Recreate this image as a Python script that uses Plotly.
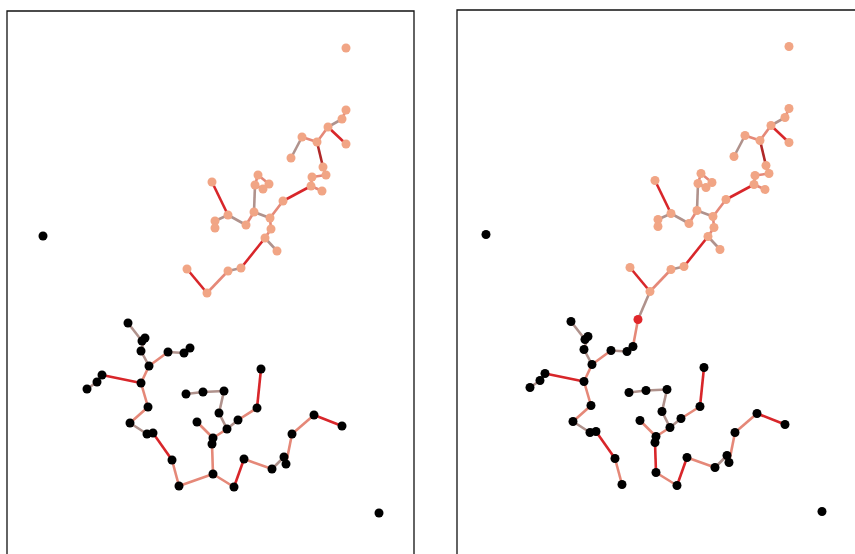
import plotly.graph_objects as go

# Node layout positions (shared by both panels), layout units
node_ids = ["s0","s1","s2","s3","s4","s5","s6","s7","s8","s9","s10","s11","s12","s13",
            "s14","s15","s16","s17","s18","s19","s20","s21","s22","s23","s24","s25","s26",
            "s27","s28","s29","s30","s31",
            "b0","b1","b2","b3","b4","b5","b6","b7","b8","b9","b10","b11","b12","b13","b14",
            "b15","b16","b17","b18","b19","b20","b21","b22","b23","b24","b25","b26","b27",
            "b28","b29","b30","b31","b32","b33","b34","b35","b36","b37","b38","b39","n0"]
node_x = [346,346,342,328,346,317,302,291,323,326,312,311,322,283,
          258,255,269,263,212,228,215,215,246,254,270,271,265,
          277,241,228,187,207,
          43,379,128,142,145,141,149,168,184,190,102,97,87,141,148,
          130,147,153,172,179,213,234,244,272,284,286,292,314,
          342,261,257,238,227,213,212,197,219,224,203,186,195]
node_y = [48,110,119,127,144,142,137,158,167,175,177,186,191,201,
          175,185,184,189,182,215,221,228,225,212,218,229,238,
          251,268,271,269,293,
          236,513,323,341,338,351,366,352,353,348,375,382,389,383,407,
          423,434,433,460,486,474,487,459,469,457,464,434,415,
          426,369,408,420,429,438,444,422,413,391,392,394,321]

# Node groups per panel
group_p1 = {"salmon": [f"s{i}" for i in range(32)],
            "black": [f"b{i}" for i in range(40)]}
group_p2 = {"salmon": [f"s{i}" for i in range(32)],
            "black": [f"b{i}" for i in range(40)],
            "red": ["n0"]}

# Edges: (from, to, strength class)
edges_common = [
    ("s1","s2","s"),("s2","s3","g"),("s3","s4","r"),("s3","s5","s"),("s5","s6","s"),
    ("s6","s7","g"),("s5","s8","d"),("s8","s9","s"),("s9","s10","s"),("s10","s11","s"),
    ("s11","s12","s"),("s13","s11","r"),("s18","s19","r"),("s19","s20","g"),("s20","s21","s"),
    ("s19","s22","g"),("s22","s23","s"),("s23","s15","g"),("s15","s14","s"),("s14","s16","s"),
    ("s15","s17","s"),("s23","s24","g"),("s24","s13","s"),("s24","s25","s"),("s25","s26","s"),
    ("s26","s27","g"),("s26","s28","r"),("s28","s29","g"),("s29","s31","s"),("s31","s30","r"),
    ("b2","b3","g"),("b3","b4","g"),("b4","b5","g"),("b5","b6","g"),("b6","b7","s"),
    ("b7","b8","g"),("b8","b9","g"),("b6","b13","s"),("b13","b10","r"),("b10","b11","g"),
    ("b11","b12","g"),("b13","b14","s"),("b14","b15","s"),("b15","b16","g"),("b16","b17","g"),
    ("b17","b18","r"),("b18","b19","s"),("b20","b21","s"),("b21","b22","r"),
    ("b22","b23","s"),("b23","b24","g"),("b24","b25","g"),("b25","b26","s"),("b26","b27","s"),
    ("b27","b28","r"),("b34","b33","g"),("b33","b32","s"),("b32","b31","g"),
    ("b31","b30","s"),("b30","b29","r"),("b33","b35","s"),("b32","b36","g"),("b36","b37","g"),
    ("b37","b38","g"),("b38","b39","g"),
]
edges_p1 = edges_common + [("b19","b20","s"),("b20","b34","s")]
edges_p2 = edges_common + [("b20","b34","r"),("n0","s31","g"),("n0","b9","s")]

edge_colors = {"r": "#d8262a", "d": "#b02828", "s": "#e58878", "g": "#b0928c"}
node_colors = {"salmon": "#f1a585", "black": "#000000", "red": "#e0262a"}

pos = {k: (x, y) for k, x, y in zip(node_ids, node_x, node_y)}

fig = go.Figure()

def add_panel(edges, groups, xa, ya):
    for cls, col in edge_colors.items():
        xs, ys = [], []
        for a, b, c in edges:
            if c != cls:
                continue
            xs += [pos[a][0], pos[b][0], None]
            ys += [pos[a][1], pos[b][1], None]
        if xs:
            fig.add_trace(go.Scatter(x=xs, y=ys, mode="lines", xaxis=xa, yaxis=ya,
                                     line=dict(color=col, width=2.6), hoverinfo="skip",
                                     showlegend=False))
    for g, members in groups.items():
        fig.add_trace(go.Scatter(x=[pos[m][0] for m in members], y=[pos[m][1] for m in members],
                                 mode="markers", xaxis=xa, yaxis=ya,
                                 marker=dict(color=node_colors[g], size=9, line=dict(width=0)),
                                 showlegend=False, hovertext=members))

add_panel(edges_p1, group_p1, "x", "y")
add_panel(edges_p2, group_p2, "x2", "y2")

W, H = 855, 554
ax = dict(visible=False, showgrid=False, zeroline=False)
fig.update_layout(
    width=W, height=H, margin=dict(l=0, r=0, t=0, b=0),
    plot_bgcolor="white", paper_bgcolor="white", showlegend=False,
    xaxis=dict(domain=[7/W, 414/W], range=[7, 414], **ax),
    yaxis=dict(domain=[0, (H-11)/H], range=[554, 11], **ax),
    xaxis2=dict(domain=[457/W, 1], range=[14, 412], **ax),
    yaxis2=dict(domain=[0, (H-10)/H], range=[555.5, 11.5], **ax),
    shapes=[
        dict(type="rect", xref="x domain", yref="y domain", x0=0, x1=1, y0=-0.05, y1=1,
             line=dict(color="#111111", width=1.3)),
        dict(type="rect", xref="x2 domain", yref="y2 domain", x0=0, x1=1.05, y0=-0.05, y1=1,
             line=dict(color="#111111", width=1.3)),
    ],
)

fig.write_html("out.html", config={"displayModeBar": False},
               post_script="document.body.style.margin='0px';")
